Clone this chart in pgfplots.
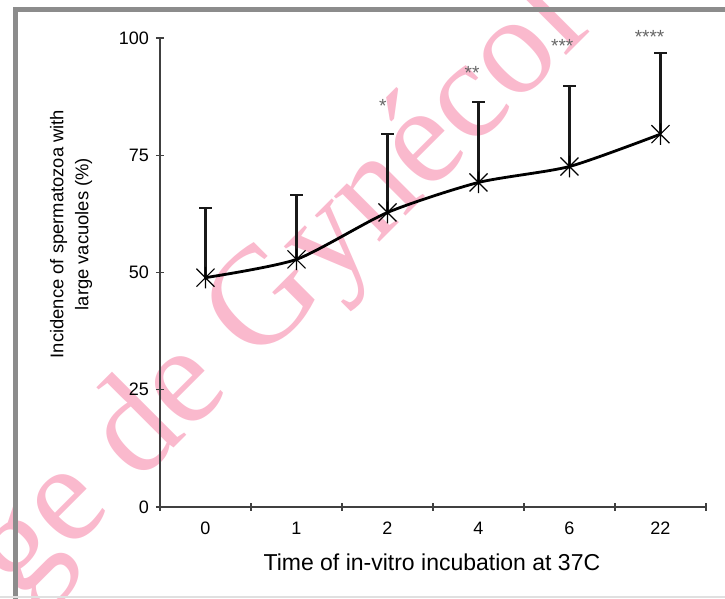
\documentclass[border=0pt]{standalone}
\usepackage{fontspec}
\setmainfont{Liberation Sans}
\newfontfamily\wmfont{Liberation Serif}
\usepackage{pgfplots}
\pgfplotsset{compat=1.18}

\definecolor{wmpink}{RGB}{250,185,205}
\definecolor{framegray}{RGB}{140,140,140}

% X with a vertical bar, like the spreadsheet "star" marker
\pgfdeclareplotmark{xstar}{%
  \pgfpathmoveto{\pgfqpoint{-\pgfplotmarksize}{-\pgfplotmarksize}}%
  \pgfpathlineto{\pgfqpoint{\pgfplotmarksize}{\pgfplotmarksize}}%
  \pgfpathmoveto{\pgfqpoint{-\pgfplotmarksize}{\pgfplotmarksize}}%
  \pgfpathlineto{\pgfqpoint{\pgfplotmarksize}{-\pgfplotmarksize}}%
  \pgfpathmoveto{\pgfqpoint{0pt}{-1.2\pgfplotmarksize}}%
  \pgfpathlineto{\pgfqpoint{0pt}{1.2\pgfplotmarksize}}%
  \pgfusepathqstroke}

\begin{document}
\begin{tikzpicture}
% picture frame: 725x599 px at 0.5pt per px, axis origin at px (160,507)
\useasboundingbox (-80pt,-46pt) rectangle (282.5pt,253.5pt);
\begin{scope}
\clip (-80pt,-46pt) rectangle (282.5pt,253.5pt);

% watermark behind the chart, image px coordinates
\begin{scope}[x=0.5pt, y=-0.5pt, shift={(-80pt,253.5pt)}]
\node[wmpink, rotate=45, anchor=base west, inner sep=0pt,
      font=\wmfont\fontsize{70}{70}\selectfont] at (20,602) {ge de Gynécol};
\end{scope}

\begin{axis}[
    scale only axis,
    width=273pt, height=234.5pt,
    xmin=-0.5, xmax=5.5,
    ymin=0, ymax=100,
    axis lines=left,
    axis line style={-, line width=0.6pt, black!75},
    xtick={-0.5,0.5,...,5.5},
    x tick label as interval,
    xticklabels={0,1,2,4,6,22},
    ytick={0,25,50,75,100},
    tick align=center,
    major tick length=4pt,
    tick style={line width=0.6pt, black!75},
    /pgf/number format/assume math mode=true,
    tick label style={font=\fontsize{9}{10}\selectfont},
    xticklabel style={yshift=-2pt},
    xlabel={Time of in-vitro incubation at 37C},
    xlabel style={font=\fontsize{11.5}{13}\selectfont, at={(axis description cs:0.498,-0.117)}, anchor=center},
    ylabel={Incidence of spermatozoa with\\large vacuoles (\%)},
    ylabel style={font=\fontsize{9.2}{12.5}\selectfont, align=center, at={(axis description cs:-0.163,0.582)}, anchor=center},
    clip=false,
]
\addplot[black, line width=1.4pt, smooth, tension=0.4,
    mark=xstar, mark size=4.5pt, mark options={line width=0.6pt, solid},
    error bars/.cd, y dir=plus, y explicit,
    error bar style={line width=1.1pt, black!90},
    error mark options={rotate=90, line width=1.1pt, black!90, mark size=3.2pt}]
coordinates {
    (0,48.9) +- (0,14.8)
    (1,52.8) +- (0,13.7)
    (2,62.8) +- (0,16.7)
    (3,69.2) +- (0,17.1)
    (4,72.6) +- (0,17.1)
    (5,79.5) +- (0,17.3)
};
\node[black!60, font=\fontsize{9.5}{9.5}\selectfont] at (axis cs:1.95,85.5) {*};
\node[black!60, font=\fontsize{9.5}{9.5}\selectfont] at (axis cs:2.93,92.5) {**};
\node[black!60, font=\fontsize{9.5}{9.5}\selectfont] at (axis cs:3.92,98.2) {***};
\node[black!60, font=\fontsize{9.5}{9.5}\selectfont] at (axis cs:4.88,100.3) {****};
\end{axis}

\begin{scope}[x=0.5pt, y=-0.5pt, shift={(-80pt,253.5pt)}]
\draw[framegray, line width=2.5pt] (15.5,800) -- (15.5,10) -- (800,10);
\draw[black!12, line width=0.8pt] (0,597) -- (725,597);
\end{scope}
\end{scope}
\end{tikzpicture}
\end{document}
